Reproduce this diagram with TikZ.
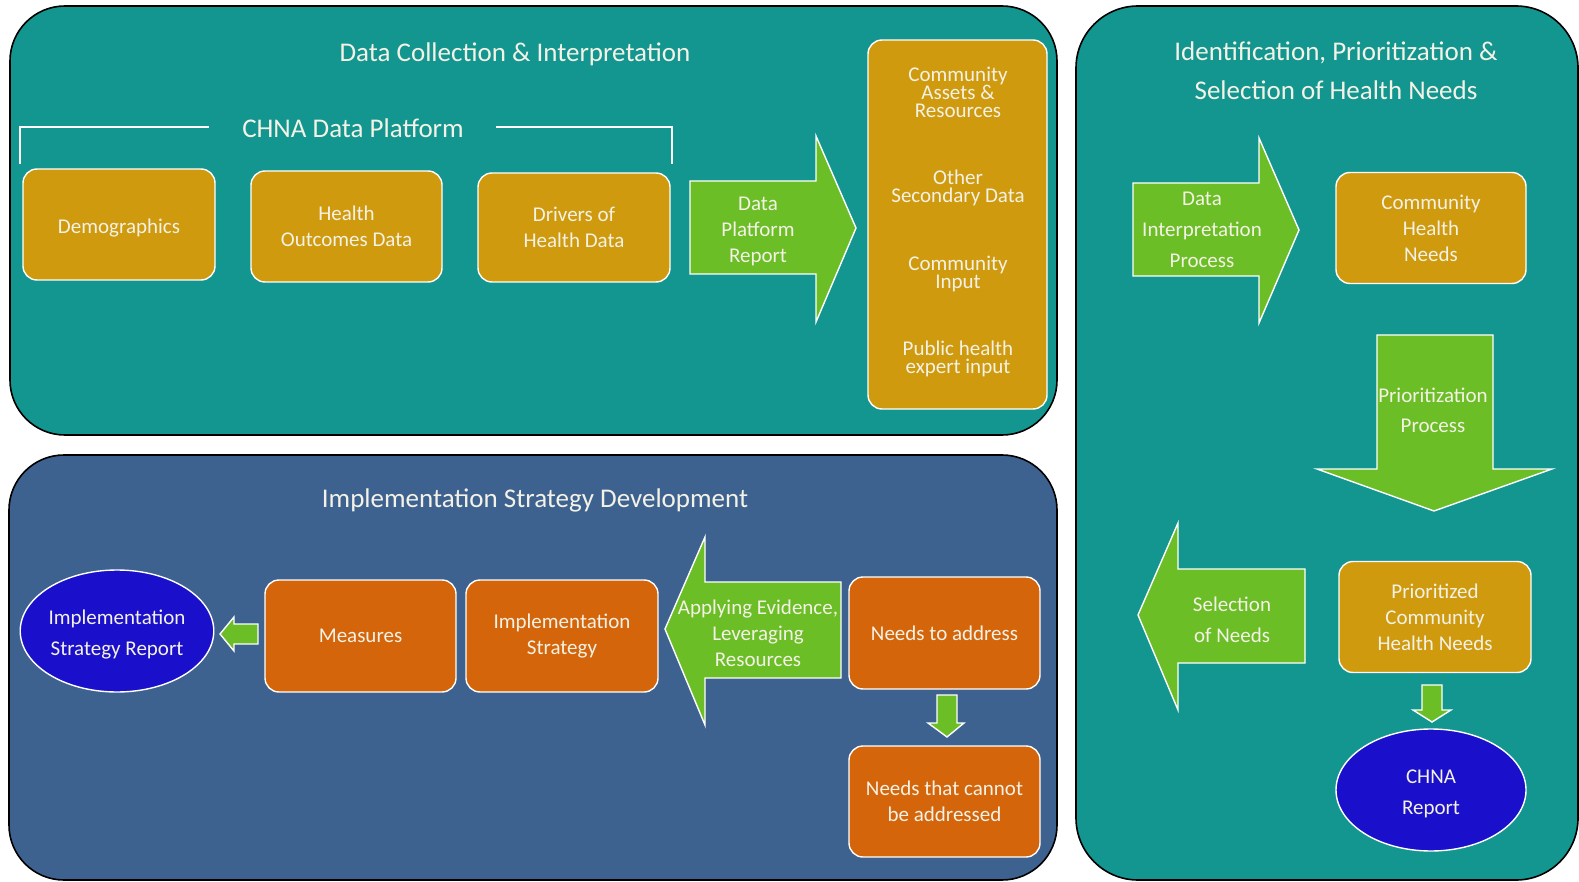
\documentclass[tikz,border=0pt]{standalone}
\usepackage{fontspec}
\setmainfont{Carlito}
\usetikzlibrary{shapes.geometric}
\definecolor{panteal}{HTML}{13968F}
\definecolor{panblue}{HTML}{3E6290}
\definecolor{boxgold}{HTML}{CF9A0E}
\definecolor{boxorange}{HTML}{D4650A}
\definecolor{arrgreen}{HTML}{6BBE26}
\definecolor{ellblue}{HTML}{1A0FCB}
\definecolor{txt}{HTML}{F4F2E6}
\tikzset{
  panel/.style={draw=black, line width=1.6pt, rounded corners=55pt},
  boxbase/.style={draw=white, line width=1.4pt, rounded corners=14pt, text=txt, align=center, inner sep=2pt, font=\fontsize{21}{26}\selectfont},
  goldbox/.style={boxbase, fill=boxgold},
  orangebox/.style={boxbase, fill=boxorange},
  ellnode/.style={ellipse, draw=white, line width=1.4pt, fill=ellblue, text=txt, align=center, inner sep=0pt, font=\fontsize{21}{31}\selectfont},
  blockarrow/.style={draw=white, line width=1.4pt, fill=arrgreen},
  arrtext/.style={text=txt, align=center, font=\fontsize{21}{#1}\selectfont},
  arrtext/.default=26,
  ptitle/.style={text=txt, align=center, font=\fontsize{27}{39}\selectfont},
  tallt/.style={text=txt, align=center, font=\fontsize{21}{18}\selectfont},
}
\newcommand{\lowstrut}{\rule{0pt}{21pt}}
\begin{document}
\begin{tikzpicture}[x=1pt,y=-1pt]
\useasboundingbox[fill=white] (0,0) rectangle (1579,882);
% panels
\draw[panel, fill=panteal] (10,6) rectangle (1057,435);
\draw[panel, fill=panblue] (9,455) rectangle (1057,880);
\draw[panel, fill=panteal, rounded corners=62pt] (1076,6) rectangle (1578,880);

% ---------- Data Collection & Interpretation ----------
\node[ptitle] (t1) at (515,54) {Data Collection \& Interpretation};
\node[ptitle] (plat) at (353,128) {CHNA Data Platform};
\draw[white, line width=1.4pt] (20,164) -- (20,127) -- (209,127);
\draw[white, line width=1.4pt] (496,127) -- (672,127) -- (672,164);

\node[goldbox, minimum width=192, minimum height=111, text depth=0pt, text height=19pt] (demo) at (119,224.5) {Demographics};
\node[goldbox, minimum width=191, minimum height=111] (hout) at (346.5,226.5) {Health\\Outcomes Data};
\node[goldbox, minimum width=192, minimum height=109] (drv) at (574,227.5) {Drivers of\\Health Data};

\draw[blockarrow] (690,181) -- (816,181) -- (816,136) -- (856,228) -- (816,322) -- (816,274) -- (690,274) -- cycle;
\node[arrtext] (dpr) at (758,231) {Data\\Platform\\Report};

\node[goldbox, minimum width=179, minimum height=369] (tall) at (957.5,224.5) {};
\node[tallt] (cas) at (958,92) {Community\\Assets \&\\Resources};
\node[tallt] (osd) at (958,188) {Other\\Secondary Data};
\node[tallt] (cin) at (958,274) {Community\\Input};
\node[tallt] (phe) at (958,359) {Public health\\expert input};

% ---------- Identification ----------
\node[ptitle] (t2) at (1336,71) {Identification, Prioritization \&\\Selection of Health Needs};

\draw[blockarrow] (1133,183) -- (1259,183) -- (1259,138) -- (1299,230) -- (1259,323) -- (1259,276) -- (1133,276) -- cycle;
\node[arrtext=31] (dip) at (1202,230) {Data\\Interpretation\\Process};

\node[goldbox, minimum width=190, minimum height=111] (chn) at (1431,228) {Community\\Health\\Needs};

\draw[blockarrow] (1377,335) -- (1493,335) -- (1493,469) -- (1552,469) -- (1434,511) -- (1317,469) -- (1377,469) -- cycle;
\node[arrtext=30] (pp) at (1433,410) {Prioritization\\Process};

\node[goldbox, minimum width=192, minimum height=111] (pchn) at (1435,617) {Prioritized\\Community\\Health Needs};

\draw[blockarrow] (1305,569) -- (1178,569) -- (1178,523) -- (1138,615) -- (1178,710) -- (1178,663) -- (1305,663) -- cycle;
\node[arrtext=31] (son) at (1232,620) {Selection\\of Needs};

\draw[blockarrow] (1422,685) -- (1442,685) -- (1442,710) -- (1451,710) -- (1432,722) -- (1413,710) -- (1422,710) -- cycle;

\node[ellnode, minimum width=190, minimum height=122] (chnar) at (1431,790) {\lowstrut CHNA\\Report};

% ---------- Implementation ----------
\node[ptitle] (t3) at (535,500) {Implementation Strategy Development};

\node[ellnode, minimum width=190, minimum height=122] (isr) at (117,631) {\lowstrut Implementation\\Strategy Report};

\draw[blockarrow] (258,624) -- (234,624) -- (234,617) -- (220,634) -- (234,651) -- (234,644) -- (258,644) -- cycle;

\node[orangebox, minimum width=191, minimum height=112] (meas) at (360.5,636) {Measures};
\node[orangebox, minimum width=192, minimum height=112] (istr) at (562,636) {Implementation\\Strategy};

\draw[blockarrow] (841,582) -- (705,582) -- (705,537) -- (665,629) -- (705,725) -- (705,678) -- (841,678) -- cycle;
\node[arrtext] (aev) at (758,633) {Applying Evidence,\\Leveraging\\Resources};

\node[orangebox, minimum width=191, minimum height=112] (nta) at (944.5,633) {Needs to address};
\draw[blockarrow] (937,695) -- (957,695) -- (957,723) -- (964,723) -- (947,737) -- (928,723) -- (937,723) -- cycle;
\node[orangebox, minimum width=191, minimum height=111] (ntc) at (944.5,801.5) {Needs that cannot\\be addressed};
\end{tikzpicture}
\end{document}
